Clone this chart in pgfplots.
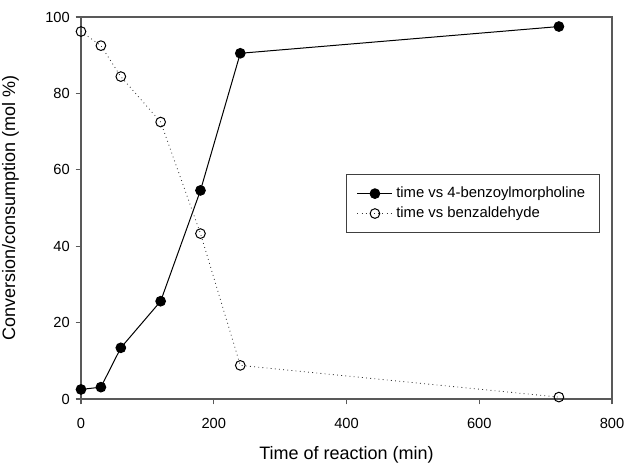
\documentclass[border=0pt]{standalone}
\usepackage{pgfplots}
\pgfplotsset{compat=1.18}
\usepackage{fontspec}
\setmainfont{Liberation Sans}

\begin{document}
\begin{tikzpicture}
\begin{axis}[
  name=ax,
  width=318.6pt, height=229.2pt,
  scale only axis,
  xmin=0, xmax=800, ymin=0, ymax=100,
  xtick={0,200,400,600,800},
  ytick={0,20,40,60,80,100},
  tick align=outside,
  xtick pos=bottom, ytick pos=left,
  major tick length=3.2pt,
  axis line style={black!65, line width=0.8pt},
  tick style={black!65, line width=0.8pt},
  tick label style={font=\fontsize{8.8}{10}\selectfont},
  xticklabel style={yshift=-5pt},
  /pgf/number format/assume math mode=true,
  xlabel={Time of reaction (min)},
  ylabel={Conversion/consumption (mol \%)},
  label style={font=\fontsize{10.8}{12}\selectfont},
  xlabel style={yshift=-3.5pt},
  ylabel style={yshift=9pt},
  clip=false,
  legend style={at={(0.977,0.589)}, anchor=north east, draw=black!75,
    line width=0.6pt,
    font=\fontsize{8.9}{11}\selectfont, inner xsep=6.5pt, inner ysep=5.5pt,
    legend cell align=left},
  legend image code/.code={
    \draw[mark repeat=2,mark phase=2,#1] plot coordinates {(0cm,0cm) (0.37cm,0cm) (0.74cm,0cm)};},
]
\addplot[black, line width=0.6pt, mark=*, mark size=2.9pt,
  mark options={fill=black}] coordinates {
  (0,2.5) (30,3.1) (60,13.4) (120,25.6) (180,54.6) (240,90.5) (720,97.5)
};
\addlegendentry{time vs 4-benzoylmorpholine}
\addplot[black!80, line width=0.5pt, dotted, mark=o, mark size=2.9pt,
  mark options={solid, fill=white, draw=black, line width=0.6pt}] coordinates {
  (0,96.2) (30,92.5) (60,84.4) (120,72.5) (180,43.3) (240,8.8) (720,0.5)
};
\addlegendentry{time vs benzaldehyde}
\end{axis}
\pgfresetboundingbox
\path ([shift={(-48.6pt,-37.8pt)}]ax.south west) rectangle ([shift={(7.8pt,10.2pt)}]ax.north east);
\end{tikzpicture}
\end{document}
